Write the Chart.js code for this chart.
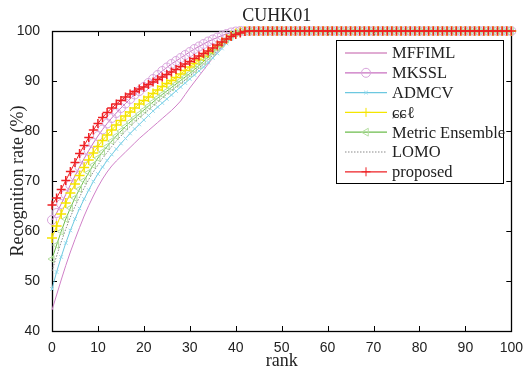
<!DOCTYPE html>
<html>
<head>
<meta charset="utf-8">
<script src="https://cdn.jsdelivr.net/npm/chart.js@4.4.1/dist/chart.umd.min.js"></script>
<style>
  html, body { margin: 0; padding: 0; background: #fff; }
  #wrap { width: 524px; height: 372px; }
</style>
</head>
<body>
<div id="wrap"><canvas id="cmc"></canvas></div>
<script>
// rank 0..100
const ranks = [
  0, 1, 2, 3, 4, 5, 6, 7, 8, 9,
  10, 11, 12, 13, 14, 15, 16, 17, 18, 19,
  20, 21, 22, 23, 24, 25, 26, 27, 28, 29,
  30, 31, 32, 33, 34, 35, 36, 37, 38, 39,
  40, 41, 42, 43, 44, 45, 46, 47, 48, 49,
  50, 51, 52, 53, 54, 55, 56, 57, 58, 59,
  60, 61, 62, 63, 64, 65, 66, 67, 68, 69,
  70, 71, 72, 73, 74, 75, 76, 77, 78, 79,
  80, 81, 82, 83, 84, 85, 86, 87, 88, 89,
  90, 91, 92, 93, 94, 95, 96, 97, 98, 99,
  100
];

const mffiml = [
  44.2, 47.2, 50.2, 53.1, 55.8, 58.3, 60.7, 63.0, 65.1, 67.0,
  68.8, 70.4, 71.8, 73.0, 74.0, 74.9, 75.8, 76.7, 77.6, 78.5,
  79.3, 80.1, 80.9, 81.7, 82.5, 83.3, 84.1, 85.0, 86.0, 87.3,
  88.6, 89.8, 91.0, 92.2, 93.4, 94.6, 95.8, 96.8, 97.7, 98.5,
  99.2, 99.7, 100, 100, 100, 100, 100, 100, 100, 100,
  100, 100, 100, 100, 100, 100, 100, 100, 100, 100,
  100, 100, 100, 100, 100, 100, 100, 100, 100, 100,
  100, 100, 100, 100, 100, 100, 100, 100, 100, 100,
  100, 100, 100, 100, 100, 100, 100, 100, 100, 100,
  100, 100, 100, 100, 100, 100, 100, 100, 100, 100,
  100
];

const mkssl = [
  62.2, 63.6, 65.4, 67.3, 69.2, 71.0, 72.8, 74.5, 76.1, 77.6,
  79.0, 80.3, 81.5, 82.6, 83.6, 84.6, 85.5, 86.4, 87.3, 88.0,
  88.8, 89.6, 90.4, 91.2, 92.0, 92.7, 93.4, 94.0, 94.6, 95.2,
  95.8, 96.4, 96.9, 97.4, 97.9, 98.3, 98.7, 99.1, 99.4, 99.7,
  99.9, 100, 100, 100, 100, 100, 100, 100, 100, 100,
  100, 100, 100, 100, 100, 100, 100, 100, 100, 100,
  100, 100, 100, 100, 100, 100, 100, 100, 100, 100,
  100, 100, 100, 100, 100, 100, 100, 100, 100, 100,
  100, 100, 100, 100, 100, 100, 100, 100, 100, 100,
  100, 100, 100, 100, 100, 100, 100, 100, 100, 100,
  100
];

const admcv = [
  48.4, 51.8, 54.8, 57.6, 60.1, 62.4, 64.5, 66.4, 68.2, 69.9,
  71.4, 72.8, 74.1, 75.3, 76.4, 77.5, 78.5, 79.5, 80.4, 81.3,
  82.2, 83.1, 84.0, 84.8, 85.6, 86.4, 87.2, 88.0, 88.8, 89.6,
  90.4, 91.2, 92.0, 92.8, 93.7, 94.6, 95.5, 96.5, 97.5, 98.4,
  99.2, 99.7, 100, 100, 100, 100, 100, 100, 100, 100,
  100, 100, 100, 100, 100, 100, 100, 100, 100, 100,
  100, 100, 100, 100, 100, 100, 100, 100, 100, 100,
  100, 100, 100, 100, 100, 100, 100, 100, 100, 100,
  100, 100, 100, 100, 100, 100, 100, 100, 100, 100,
  100, 100, 100, 100, 100, 100, 100, 100, 100, 100,
  100
];

const ccl = [
  58.6, 61.0, 63.4, 65.6, 67.6, 69.4, 71.1, 72.7, 74.2, 75.6,
  76.9, 78.1, 79.2, 80.2, 81.2, 82.1, 83.0, 83.8, 84.6, 85.4,
  86.1, 86.8, 87.5, 88.2, 88.9, 89.5, 90.1, 90.7, 91.4, 92.1,
  92.8, 93.5, 94.2, 94.9, 95.6, 96.3, 97.0, 97.7, 98.4, 99.0,
  99.5, 99.8, 100, 100, 100, 100, 100, 100, 100, 100,
  100, 100, 100, 100, 100, 100, 100, 100, 100, 100,
  100, 100, 100, 100, 100, 100, 100, 100, 100, 100,
  100, 100, 100, 100, 100, 100, 100, 100, 100, 100,
  100, 100, 100, 100, 100, 100, 100, 100, 100, 100,
  100, 100, 100, 100, 100, 100, 100, 100, 100, 100,
  100
];

const metricEnsemble = [
  54.4, 57.2, 59.9, 62.4, 64.6, 66.6, 68.4, 70.1, 71.7, 73.2,
  74.6, 75.8, 76.9, 78.0, 79.0, 80.0, 80.9, 81.8, 82.6, 83.4,
  84.2, 85.0, 85.8, 86.6, 87.3, 88.0, 88.7, 89.4, 90.1, 90.8,
  91.5, 92.3, 93.1, 93.9, 94.8, 95.7, 96.6, 97.5, 98.3, 99.0,
  99.6, 99.9, 100, 100, 100, 100, 100, 100, 100, 100,
  100, 100, 100, 100, 100, 100, 100, 100, 100, 100,
  100, 100, 100, 100, 100, 100, 100, 100, 100, 100,
  100, 100, 100, 100, 100, 100, 100, 100, 100, 100,
  100, 100, 100, 100, 100, 100, 100, 100, 100, 100,
  100, 100, 100, 100, 100, 100, 100, 100, 100, 100,
  100
];

const lomo = [
  52.0, 55.0, 57.8, 60.4, 62.8, 64.9, 66.8, 68.6, 70.3, 71.8,
  73.2, 74.5, 75.7, 76.9, 78.0, 79.0, 80.0, 80.9, 81.8, 82.6,
  83.4, 84.2, 85.0, 85.8, 86.6, 87.4, 88.1, 88.8, 89.5, 90.2,
  91.0, 91.8, 92.6, 93.4, 94.3, 95.2, 96.1, 97.0, 97.9, 98.7,
  99.4, 99.8, 100, 100, 100, 100, 100, 100, 100, 100,
  100, 100, 100, 100, 100, 100, 100, 100, 100, 100,
  100, 100, 100, 100, 100, 100, 100, 100, 100, 100,
  100, 100, 100, 100, 100, 100, 100, 100, 100, 100,
  100, 100, 100, 100, 100, 100, 100, 100, 100, 100,
  100, 100, 100, 100, 100, 100, 100, 100, 100, 100,
  100
];

const proposed = [
  65.2, 66.6, 68.3, 70.1, 71.9, 73.7, 75.5, 77.1, 78.7, 80.2,
  81.5, 82.7, 83.7, 84.6, 85.4, 86.1, 86.8, 87.4, 87.9, 88.4,
  88.8, 89.3, 89.8, 90.3, 90.8, 91.3, 91.8, 92.3, 92.9, 93.4,
  93.9, 94.5, 95.0, 95.5, 96.0, 96.6, 97.2, 97.8, 98.4, 98.9,
  99.3, 99.6, 99.9, 100, 100, 100, 100, 100, 100, 100,
  100, 100, 100, 100, 100, 100, 100, 100, 100, 100,
  100, 100, 100, 100, 100, 100, 100, 100, 100, 100,
  100, 100, 100, 100, 100, 100, 100, 100, 100, 100,
  100, 100, 100, 100, 100, 100, 100, 100, 100, 100,
  100, 100, 100, 100, 100, 100, 100, 100, 100, 100,
  100
];

const xTicks = [0, 10, 20, 30, 40, 50, 60, 70, 80, 90, 100];
const yTicks = [40, 50, 60, 70, 80, 90, 100];

const SERIF = '"Liberation Serif", "Times New Roman", serif';
const SANS = '"Liberation Sans", Arial, sans-serif';

function pts(vals) {
  return vals.map((v, i) => ({ x: ranks[i], y: v }));
}

// legend order = dataset order; 'order' puts proposed on top
const series = [
  { label: 'MFFIML', data: mffiml, line: '#d080c8', legendLine: '#c25aa8', mark: '#c25aa8', style: false, r: 0 },
  { label: 'MKSSL', data: mkssl, line: '#c870c0', mark: '#d8a4dc', style: 'circle', r: 4.5 },
  { label: 'ADMCV', data: admcv, line: '#6cc8e0', mark: '#8fd8ec', style: 'crossRot', r: 2.5 },
  { label: 'ɕɕℓ', data: ccl, line: '#f4e600', mark: '#f5e400', style: 'cross', r: 5, bw: 1.5 },
  { label: 'Metric Ensemble', data: metricEnsemble, line: '#6cbc4c', mark: '#b4dea0', style: 'triangle', r: 4, rot: -90 },
  { label: 'LOMO', data: lomo, line: '#8a8a8a', mark: '#8a8a8a', style: false, r: 0, dash: [1.5, 1.5] },
  { label: 'proposed', data: proposed, line: '#ee2024', mark: '#ee2024', style: 'cross', r: 4.5, bw: 1.5 }
];

const datasets = series.map((s, i) => ({
  label: s.label,
  data: pts(s.data),
  borderColor: s.line,
  legendLine: s.legendLine || s.line,
  borderWidth: 1,
  borderDash: s.dash || [],
  pointStyle: s.style,
  pointRadius: s.r,
  pointBorderColor: s.mark,
  pointBackgroundColor: 'rgba(0,0,0,0)',
  pointBorderWidth: s.bw || 1,
  pointRotation: s.rot || 0,
  pointHoverRadius: s.r,
  tension: 0,
  fill: false,
  clip: 8,
  order: series.length - i
}));

// box with inward ticks on all four sides (matlab style)
const frame = {
  id: 'frame',
  beforeDatasetsDraw(chart) {
    const { ctx, chartArea: a, scales } = chart;
    ctx.save();
    ctx.strokeStyle = '#000';
    ctx.lineWidth = 1;
    ctx.beginPath();
    xTicks.forEach(t => {
      const x = Math.round(scales.x.getPixelForValue(t)) + 0.5;
      ctx.moveTo(x, a.bottom); ctx.lineTo(x, a.bottom - 5);
      ctx.moveTo(x, a.top); ctx.lineTo(x, a.top + 5);
    });
    yTicks.forEach(t => {
      const y = Math.round(scales.y.getPixelForValue(t)) + 0.5;
      ctx.moveTo(a.left, y); ctx.lineTo(a.left + 5, y);
      ctx.moveTo(a.right, y); ctx.lineTo(a.right - 5, y);
    });
    ctx.stroke();
    ctx.lineWidth = 1.3;
    ctx.strokeRect(Math.round(a.left) + 0.5, Math.round(a.top) + 0.5,
      Math.round(a.right - a.left), Math.round(a.bottom - a.top));
    ctx.restore();
  }
};

const titleText = {
  id: 'titleText',
  afterDraw(chart) {
    const { ctx, chartArea: a } = chart;
    ctx.save();
    ctx.fillStyle = '#222';
    ctx.font = '18px ' + SERIF;
    ctx.textAlign = 'center';
    ctx.textBaseline = 'alphabetic';
    ctx.fillText('CUHK01', (a.left + a.right) / 2 - 5, 21);
    ctx.restore();
  }
};

const legendBox = {
  id: 'legendBox',
  afterDraw(chart) {
    const ctx = chart.ctx;
    const bx = 336, by = 40, bw = 167, bh = 143;
    ctx.save();
    ctx.fillStyle = '#fff';
    ctx.fillRect(bx, by, bw, bh);
    ctx.strokeStyle = '#000';
    ctx.lineWidth = 1;
    ctx.strokeRect(bx + 0.5, by + 0.5, bw, bh);
    chart.data.datasets.forEach((ds, i) => {
      const y = 53 + i * 19.8;
      ctx.strokeStyle = ds.legendLine;
      ctx.lineWidth = 1.2;
      ctx.setLineDash(ds.borderDash || []);
      ctx.beginPath();
      ctx.moveTo(345, y); ctx.lineTo(387, y);
      ctx.stroke();
      ctx.setLineDash([]);
      if (ds.pointStyle) {
        ctx.strokeStyle = ds.pointBorderColor;
        ctx.fillStyle = 'rgba(0,0,0,0)';
        ctx.lineWidth = 1;
        Chart.helpers.drawPoint(ctx, {
          pointStyle: ds.pointStyle,
          radius: ds.pointStyle === 'crossRot' ? 2.5 : 4.5,
          rotation: ds.pointRotation,
          borderWidth: 1
        }, 366, y);
      }
      ctx.fillStyle = '#222';
      ctx.font = '16.5px ' + SERIF;
      ctx.textAlign = 'left';
      ctx.textBaseline = 'middle';
      ctx.fillText(ds.label, 392, y + 1);
    });
    ctx.restore();
  }
};

new Chart(document.getElementById('cmc'), {
  type: 'line',
  data: { datasets: datasets },
  options: {
    responsive: true,
    maintainAspectRatio: false,
    animation: false,
    events: [],
    layout: { padding: { top: 31, right: 12, left: 0, bottom: 0 } },
    plugins: {
      legend: { display: false },
      title: { display: false },
      tooltip: { enabled: false }
    },
    scales: {
      x: {
        type: 'linear',
        min: 0,
        max: 100,
        afterFit: s => { s.height = 41; },
        afterBuildTicks: s => { s.ticks = xTicks.map(v => ({ value: v })); },
        grid: { display: false },
        border: { display: false },
        ticks: {
          padding: 1,
          color: '#222',
          font: { family: SANS, size: 14 }
        },
        title: {
          display: true,
          text: 'rank',
          color: '#222',
          font: { family: SERIF, size: 18 },
          padding: { top: 0, bottom: 0 }
        }
      },
      y: {
        type: 'linear',
        min: 40,
        max: 100,
        afterFit: s => { s.width = 52; },
        afterBuildTicks: s => { s.ticks = yTicks.map(v => ({ value: v })); },
        grid: { display: false },
        border: { display: false },
        ticks: {
          padding: 4,
          color: '#222',
          font: { family: SANS, size: 14 }
        },
        title: {
          display: true,
          text: 'Recognition rate (%)',
          color: '#222',
          font: { family: SERIF, size: 18 },
          padding: { top: 7, bottom: 0 }
        }
      }
    }
  },
  plugins: [frame, titleText, legendBox]
});
</script>
</body>
</html>
